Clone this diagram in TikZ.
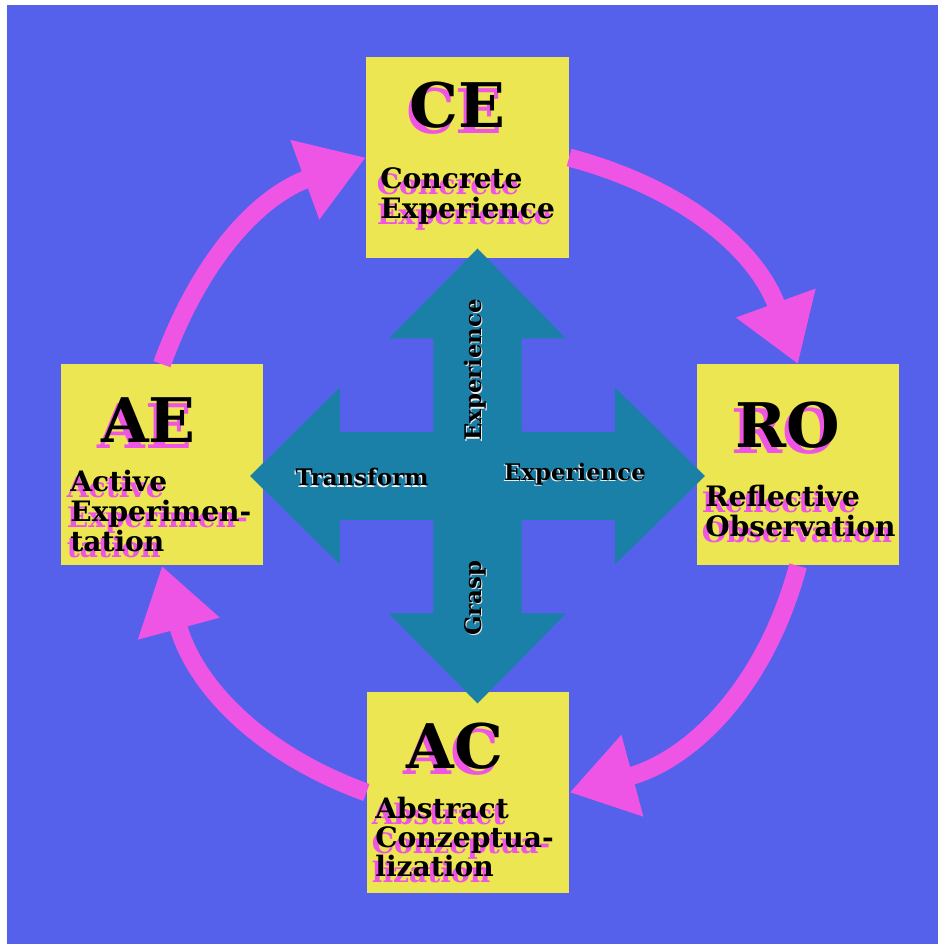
\documentclass[tikz,border=0pt]{standalone}
\usepackage{fontspec}
\setmainfont{DejaVu Serif}
\usetikzlibrary{arrows.meta}

\definecolor{bgblue}{HTML}{5661EB}
\definecolor{boxyellow}{HTML}{ECE652}
\definecolor{crossteal}{HTML}{1A80A7}
\definecolor{cyclepink}{HTML}{EE55E4}

% text with a pink drop shadow (one or more lines)
\newcommand{\pinkdrop}[1]{\leavevmode
    \rlap{\kern-0.07cm\raisebox{-0.12cm}{\color{cyclepink}\begin{tabular}[t]{@{}l@{}}#1\end{tabular}}}%
    \begin{tabular}[t]{@{}l@{}}#1\end{tabular}}
% black text with a thin light edge
\newcommand{\lightdrop}[1]{\leavevmode
    \rlap{\kern-0.025cm\raisebox{-0.025cm}{\color{white!85!gray}#1}}#1}

\begin{document}
\begin{tikzpicture}[
        stage/.style={fill=boxyellow, minimum width=4.05cm, minimum height=4.02cm, inner sep=0pt},
        bigtag/.style={anchor=base, inner sep=0pt, font=\fontsize{35}{40}\selectfont\bfseries},
        stagename/.style={anchor=base west, inner sep=0pt, font=\fontsize{16}{15.8}\selectfont\bfseries},
        axislabel/.style={inner sep=0pt, font=\fontsize{13}{15}\selectfont\bfseries},
        cycle/.style={cyclepink, line width=0.36cm, -{Triangle[length=1.3cm,width=1.6cm]}}
    ]
        \useasboundingbox[fill=white] (-9.4,-9.48) rectangle (9.36,9.4);
        \fill[bgblue] (-9.26,-9.48) rectangle (9.36,9.3);

        % the four stages
        \node[stage] (CE) at (-0.05,6.25) {};
        \node[stage] (AE) at (-6.16,0.1) {};
        \node[stage] (RO) at (6.56,0.1) {};
        \node[stage] (AC) at (-0.04,-6.45) {};

        % cross in the middle
        \begin{scope}[shift={(0.15,-0.12)}]
            \foreach \a in {0,90,180,270}
                \fill[crossteal, rotate=\a] (-0.88,0) -- (-0.88,2.75) -- (-1.77,2.75) -- (0,4.55)
                    -- (1.77,2.75) -- (0.88,2.75) -- (0.88,0) -- cycle;
        \end{scope}

        \node[axislabel, rotate=90] (up) at (0.12,2.0) {\lightdrop{Experience}};
        \node[axislabel, rotate=90] (down) at (0.12,-2.56) {\lightdrop{Grasp}};
        \node[axislabel] (left) at (-2.16,-0.16) {\lightdrop{Transform}};
        \node[axislabel] (right) at (2.1,-0.1) {\lightdrop{Experience}};

        % stage labels
        \node[bigtag] (CEtag) at (-0.25,6.84) {\pinkdrop{CE}};
        \node[bigtag] (AEtag) at (-6.43,0.54) {\pinkdrop{AE}};
        \node[bigtag] (ROtag) at (6.35,0.44) {\pinkdrop{RO}};
        \node[bigtag] (ACtag) at (-0.3,-5.96) {\pinkdrop{AC}};

        \node[stagename] (CEname) at (-1.8,5.62) {\pinkdrop{Concrete\\Experience}};
        \node[stagename] (AEname) at (-8.0,-0.44) {\pinkdrop{Active\\Experimen-\\tation}};
        \node[stagename] (ROname) at (4.7,-0.74) {\pinkdrop{Reflective\\Observation}};
        \node[stagename] (ACname) at (-1.9,-6.96) {\pinkdrop{Abstract\\Conzeptua-\\lization}};

        % the learning cycle
        \draw[cycle] (AE.north) to[out=70, in=200] (CE.west);
        \draw[cycle] (CE.east) to[out=-15, in=110] (RO.north);
        \draw[cycle] (RO.south) to[out=-105, in=15] (AC.east);
        \draw[cycle] (AC.west) to[out=160, in=-75] (AE.south);
    \end{tikzpicture}
\end{document}
